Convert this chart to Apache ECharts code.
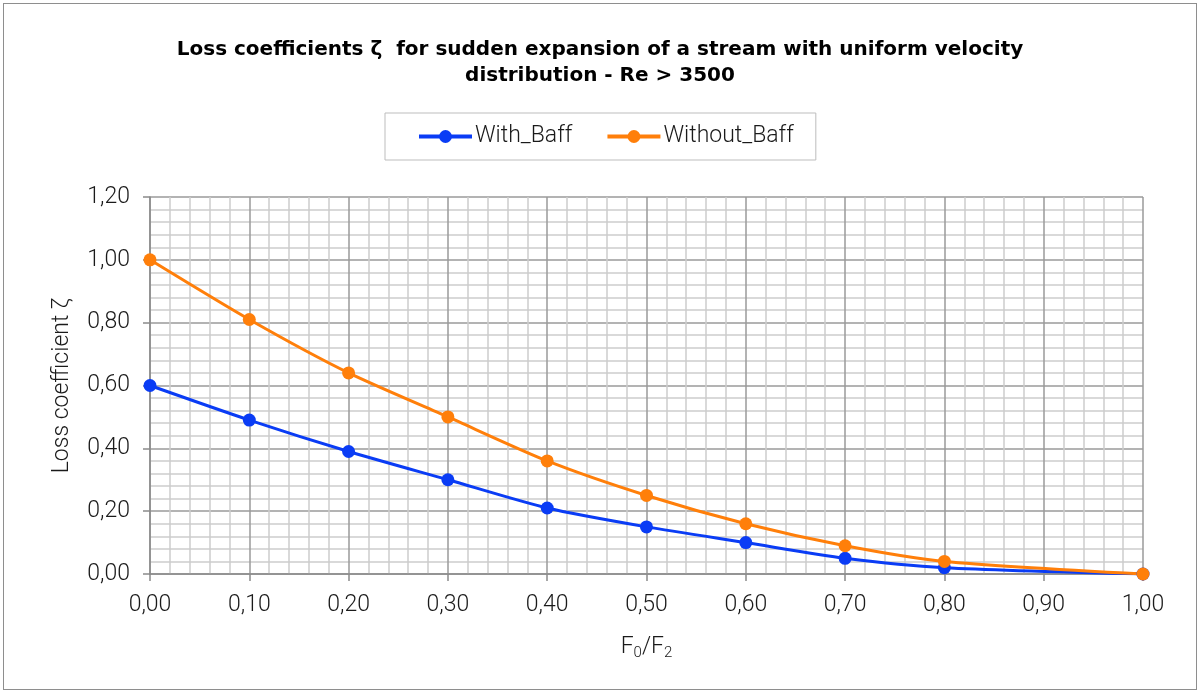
<!DOCTYPE html>
<html>
<head>
<meta charset="utf-8">
<script src="https://cdn.jsdelivr.net/npm/echarts@6/dist/echarts.min.js"></script>
<style>
  html, body { margin: 0; padding: 0; background: #fff; }
  #frame { position: absolute; left: 3px; top: 3px; width: 1192px; height: 685px; border: 1.5px solid #8e8e8e; }
  #chart { position: absolute; left: 0; top: 0; width: 1200px; height: 693px; }
</style>
</head>
<body>
<div id="frame"></div>
<div id="chart"></div>
<script>
// Area ratio F0/F2 and loss coefficients for both configurations
const ratios = [0.0, 0.1, 0.2, 0.3, 0.4, 0.5, 0.6, 0.7, 0.8, 1.0];
const withBaff = [0.60, 0.49, 0.39, 0.30, 0.21, 0.15, 0.10, 0.05, 0.02, 0.00];
const withoutBaff = [1.00, 0.81, 0.64, 0.50, 0.36, 0.25, 0.16, 0.09, 0.04, 0.00];
const seriesNames = ['With_Baff', 'Without_Baff'];

const fmt = v => v.toFixed(2).replace('.', ',');
const labelFont = 'Roboto';
const labelSize = 23;
const textColor = '#1a1a1a';
const chart = echarts.init(document.getElementById('chart'));

const mkSeries = (name, vals, color) => ({
  name: name,
  type: 'line',
  smooth: 0.25,
  data: ratios.map((x, i) => [x, vals[i]]),
  symbol: 'circle',
  symbolSize: 13,
  lineStyle: { color: color, width: 3 },
  itemStyle: { color: color },
  emphasis: { disabled: true }
});

chart.setOption({
  animation: false,
  title: {
    text: 'Loss coefficients ζ  for sudden expansion of a stream with uniform velocity\ndistribution - Re > 3500',
    left: 'center',
    top: 32,
    textStyle: { fontFamily: 'DejaVu Sans', fontWeight: 'bold', fontSize: 20, color: '#000', lineHeight: 26 }
  },
  legend: {
    data: seriesNames,
    top: 113,
    left: 385,
    padding: [12, 22, 12, 32],
    borderColor: '#bdbdbd',
    borderWidth: 1,
    itemWidth: 53,
    itemHeight: 16,
    itemGap: 33,
    lineStyle: { width: 4 },
    textStyle: { fontFamily: labelFont, fontWeight: 300, fontSize: labelSize, color: textColor, padding: [0, 0, 0, -2] }
  },
  grid: { left: 150, right: 57, top: 197, bottom: 119, containLabel: false },
  xAxis: {
    type: 'value',
    min: 0, max: 1, interval: 0.1,
    name: '{a|F}{s|0}{a|/F}{s|2}',
    nameLocation: 'middle',
    nameGap: 60,
    nameTextStyle: {
      rich: {
        a: { fontFamily: labelFont, fontWeight: 300, fontSize: labelSize, color: textColor },
        s: { fontFamily: labelFont, fontWeight: 300, fontSize: 15, color: textColor, verticalAlign: 'bottom', padding: [12, 0, 0, 0] }
      }
    },
    axisLine: { show: true, onZero: false, lineStyle: { color: '#8a8a8a', width: 1.5 } },
    axisTick: { show: true, length: 7, lineStyle: { color: '#8a8a8a', width: 1.5 } },
    minorTick: { show: false, splitNumber: 5 },
    axisLabel: { formatter: fmt, margin: 20, fontFamily: labelFont, fontWeight: 300, fontSize: labelSize, color: textColor },
    splitLine: { show: true, lineStyle: { color: '#9a9a9a', width: 1.5 } },
    minorSplitLine: { show: true, lineStyle: { color: '#cdcdcd', width: 1.5 } }
  },
  yAxis: {
    type: 'value',
    min: 0, max: 1.2, interval: 0.2,
    name: 'Loss coefficient ζ',
    nameLocation: 'middle',
    nameGap: 76,
    nameTextStyle: { fontFamily: labelFont, fontWeight: 300, fontSize: labelSize, color: textColor },
    axisLine: { show: true, lineStyle: { color: '#8a8a8a', width: 1.5 } },
    axisTick: { show: true, length: 7, lineStyle: { color: '#8a8a8a', width: 1.5 } },
    minorTick: { show: false, splitNumber: 5 },
    axisLabel: { formatter: fmt, margin: 20, fontFamily: labelFont, fontWeight: 300, fontSize: labelSize, color: textColor },
    splitLine: { show: true, lineStyle: { color: '#9a9a9a', width: 1.5 } },
    minorSplitLine: { show: true, lineStyle: { color: '#cdcdcd', width: 1.5 } }
  },
  series: [
    mkSeries(seriesNames[0], withBaff, '#0a3cf5'),
    mkSeries(seriesNames[1], withoutBaff, '#ff7f0a')
  ]
});
</script>
</body>
</html>
